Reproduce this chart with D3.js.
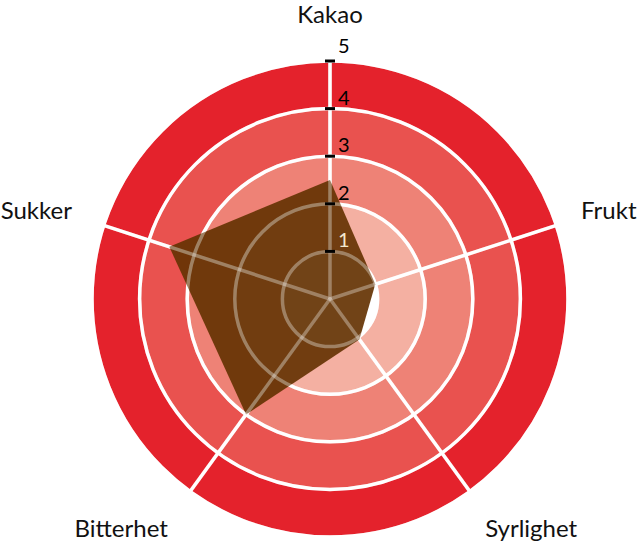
<!DOCTYPE html>
<html>
<head>
<meta charset="utf-8">
<script src="https://cdn.jsdelivr.net/npm/d3@7"></script>
<style>
  body { margin: 0; background: #fff; }
  text { font-family: Lato, "Open Sans", sans-serif; font-weight: 400; }
</style>
</head>
<body>
<div id="container"></div>
<script>
/* CONSTANTS AND GLOBALS */
const width = 640,
  height = 549,
  cx = 330,
  cy = 299,
  outerR = 238

/* DATA */
const axes = ["Kakao", "Frukt", "Syrlighet", "Bitterhet", "Sukker"]
const values = [2.5, 1.0, 1.05, 3.0, 3.55]
const ticks = [1, 2, 3, 4, 5]
const ringColors = ["#ffffff", "#f4b0a2", "#ee8276", "#e9524f", "#e4222c"]

// SCALES
const rScale = d3.scaleLinear()
  .domain([0, 5])
  .range([0, outerR])

const angle = d3.scalePoint()
  .domain(axes)
  .range([0, 2 * Math.PI * (axes.length - 1) / axes.length])

// polar -> xy, angle measured clockwise from top
const px = (a, r) => Math.sin(a) * r
const py = (a, r) => -Math.cos(a) * r

// CREATE SVG ELEMENT
const svg = d3.select("#container")
  .append("svg")
  .attr("width", width)
  .attr("height", height)

const g = svg.append("g")
  .attr("transform", `translate(${cx}, ${cy})`)

// RINGS
const arcGen = d3.arc()
  .startAngle(0)
  .endAngle(2 * Math.PI)

g.selectAll(".ring")
  .data(ticks)
  .join("path")
  .attr("class", "ring")
  .attr("fill", (d, i) => ringColors[i])
  .attr("d", d => arcGen({ innerRadius: rScale(d - 1), outerRadius: rScale(d) }))

// GRID (drawn twice: under the shape and faintly over it)
function drawGrid(layer, opacity) {
  layer.selectAll(".circle")
    .data(ticks)
    .join("circle")
    .attr("class", "circle")
    .attr("r", d => rScale(d))
    .attr("fill", "none")
    .attr("stroke", "#fff")
    .attr("stroke-opacity", opacity)
    .attr("stroke-width", 3.5)

  layer.selectAll(".spoke")
    .data(axes)
    .join("line")
    .attr("class", "spoke")
    .attr("x1", 0)
    .attr("y1", 0)
    .attr("x2", d => px(angle(d), rScale(5)))
    .attr("y2", d => py(angle(d), rScale(5)))
    .attr("stroke", "#fff")
    .attr("stroke-opacity", opacity)
    .attr("stroke-width", 3.5)
}
drawGrid(g.append("g"), 1)

// SHAPE
const lineGen = d3.lineRadial()
  .angle((d, i) => angle(axes[i]))
  .radius(d => rScale(d))
  .curve(d3.curveLinearClosed)

g.append("path")
  .attr("class", "shape")
  .attr("fill", "#653303")
  .attr("fill-opacity", 0.92)
  .attr("d", lineGen(values))

drawGrid(g.append("g"), 0.33)

// TICKS ON KAKAO AXIS
g.selectAll(".tick")
  .data(ticks)
  .join("line")
  .attr("class", "tick")
  .attr("x1", -5)
  .attr("x2", 5)
  .attr("y1", d => -rScale(d))
  .attr("y2", d => -rScale(d))
  .attr("stroke", "#000")
  .attr("stroke-width", 3)

g.selectAll(".tickLabel")
  .data(ticks)
  .join("text")
  .attr("class", "tickLabel")
  .attr("x", 8)
  .attr("y", d => -rScale(d) - (d === 5 ? 8 : 4))
  .attr("font-size", 20)
  .attr("fill", d => d === 1 ? "#f3e7cc" : "#000")
  .text(d => d)

// AXIS LABELS
const labelR = 264
g.selectAll(".axisLabel")
  .data(axes)
  .join("text")
  .attr("class", "axisLabel")
  .attr("font-size", 24)
  .attr("fill", "#111")
  .attr("text-anchor", d => {
    const s = px(angle(d), 1)
    return Math.abs(s) < 0.01 ? "middle" : (s > 0 ? "start" : "end")
  })
  .attr("x", d => {
    const s = px(angle(d), 1)
    return px(angle(d), labelR) + (s < -0.01 ? -7 : 0)
  })
  .attr("y", d => {
    const c = py(angle(d), 1)
    if (c < -0.9) return -276
    if (c > 0.5) return py(angle(d), labelR) + 24
    return py(angle(d), labelR) + 2
  })
  .text(d => d)
</script>
</body>
</html>
